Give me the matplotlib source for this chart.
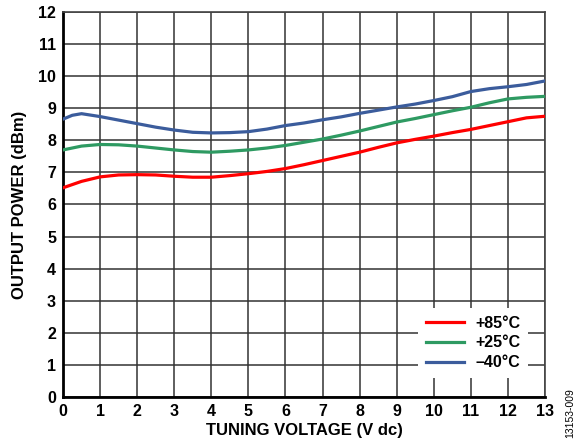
import matplotlib.pyplot as plt

plt.rcParams['font.family'] = ['Liberation Sans', 'DejaVu Sans']
plt.rcParams['font.weight'] = 'bold'

voltage = [0, 0.25, 0.5, 1, 1.5, 2, 2.5, 3, 3.5, 4, 4.5, 5, 5.5, 6, 6.5,
           7, 7.5, 8, 8.5, 9, 9.5, 10, 10.5, 11, 11.5, 12, 12.5, 13]
p_85 = [6.52, 6.62, 6.72, 6.86, 6.92, 6.93, 6.92, 6.88, 6.85, 6.85, 6.9, 6.96, 7.03, 7.12, 7.24,
        7.37, 7.5, 7.63, 7.78, 7.92, 8.03, 8.13, 8.24, 8.34, 8.46, 8.58, 8.7, 8.75]
p_25 = [7.7, 7.76, 7.82, 7.87, 7.86, 7.82, 7.76, 7.7, 7.65, 7.63, 7.66, 7.7, 7.76, 7.84, 7.94,
        8.04, 8.16, 8.29, 8.43, 8.57, 8.68, 8.8, 8.92, 9.03, 9.17, 9.29, 9.34, 9.37]
p_m40 = [8.66, 8.78, 8.83, 8.74, 8.63, 8.52, 8.41, 8.32, 8.25, 8.23, 8.24, 8.27, 8.35, 8.46, 8.54,
         8.64, 8.73, 8.84, 8.94, 9.04, 9.13, 9.24, 9.36, 9.52, 9.61, 9.67, 9.74, 9.85]

fig = plt.figure(figsize=(5.79, 4.47), dpi=100)
ax = fig.add_axes([0.1088, 0.1119, 0.8325, 0.8613])

ax.plot(voltage, p_85, color='#ff0000', lw=2.3, label='+85°C', zorder=3)
ax.plot(voltage, p_25, color='#2e9a62', lw=2.3, label='+25°C', zorder=3)
ax.plot(voltage, p_m40, color='#3b5c9c', lw=2.3, label='–40°C', zorder=3)

ax.set_xlim(0, 13)
ax.set_ylim(0, 12)
ax.set_xticks(range(0, 14))
ax.set_yticks(range(0, 13))
ax.grid(True, color='#333333', lw=1.1)
ax.tick_params(length=0, labelsize=11.5, pad=5)
for s in ['left', 'bottom']:
    ax.spines[s].set_linewidth(2)
for s in ['top', 'right']:
    ax.spines[s].set_color('#444444')
    ax.spines[s].set_linewidth(1.2)

ax.set_xlabel('TUNING VOLTAGE (V dc)', fontsize=12, fontweight='bold', labelpad=3)
ax.set_ylabel('OUTPUT POWER (dBm)', fontsize=12, fontweight='bold', labelpad=8)

leg = ax.legend(loc='lower right', bbox_to_anchor=(0.982, 0.028), fontsize=11.5,
                frameon=True, fancybox=False, framealpha=1, facecolor='white',
                edgecolor='white', handlelength=2.4, borderpad=0.5, labelspacing=0.3,
                handletextpad=0.7)
leg.get_frame().set_linewidth(0)
leg.set_zorder(5)

fig.text(0.985, 0.075, '13153-009', rotation=90, fontsize=7.5, fontweight='normal',
         ha='center', va='center')

fig.savefig('out.png', dpi=100)
